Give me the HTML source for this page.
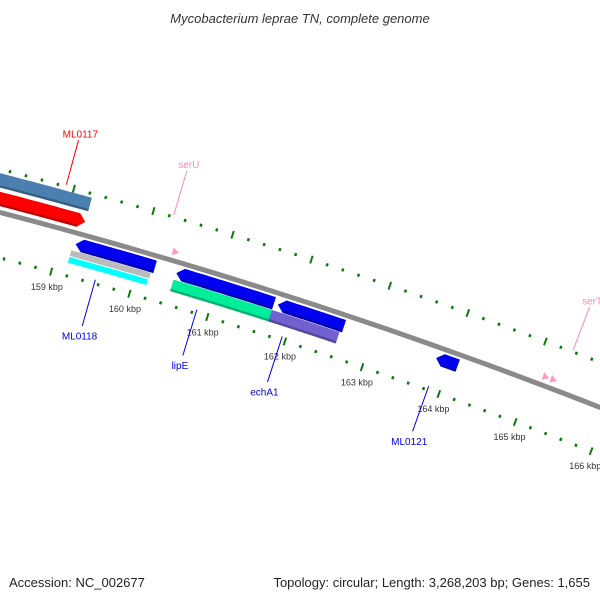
<!DOCTYPE html>
<html><head><meta charset="utf-8"><style>
html,body{margin:0;padding:0;background:#fff}
svg{display:block;font-family:"Liberation Sans","DejaVu Sans",sans-serif}
</style></head><body>
<svg id="map" width="600" height="600" viewBox="0 0 600 600">
<text x="300" y="23" text-anchor="middle" font-size="13" font-style="italic" fill="#333">Mycobacterium leprae TN, complete genome</text>
<text x="9" y="587" font-size="13" fill="#222">Accession: NC_002677</text>
<text x="590" y="587" text-anchor="end" font-size="13" fill="#222">Topology: circular; Length: 3,268,203 bp; Genes: 1,655</text>
<g id="layer"></g>
</svg>
<script>
// Data
const featNames = ["ML0117-a","ML0117","ML0118","ML0118-gray","ML0118-cyan","serU","lipE","lipE-green","echA1","echA1-purple","ML0121","serT-a","serT-b"];
const featStart = [156.0,156.0,159.20,159.17,159.17,160.36,160.48,160.47,161.78,161.73,163.82,165.12,165.22];
const featEnd   = [159.24,159.24,160.21,160.18,160.17,160.44,161.73,161.76,162.63,162.60,164.10,165.20,165.30];
const featDir   = [0,1,-1,0,0,1,-1,0,-1,0,-1,1,1];
const featTrack = [31,13,-11,-21,-28,9,-11,-24,-11,-24,-11,9,9];
const featThick = [14,14,13,6,6,8,13,12,13,12,13,8,8];
const featColor = ["#4a7fb0","#ff0000","#0000ee","#bbbbbb","#00ffff","#ff99cc","#0000ee","#00ee99","#0000ee","#7060d0","#0000ee","#ff99cc","#ff99cc"];
const labelText = ["ML0117","serU","serT","ML0118","lipE","echA1","ML0121"];
const labelKbp  = [158.9,160.25,165.35,159.55,160.85,161.95,163.85];
const labelSide = [1,1,1,-1,-1,-1,-1];
const labelColor= ["#ff0000","#ff88bb","#ff88bb","#0000dd","#0000dd","#0000dd","#0000dd"];
const tickKbp = [156,157,158,159,160,161,162,163,164,165,166,167];

const CX=-1351, CY=5389, R=5350;
const TH0=Math.atan2(232-CY,62-CX);
const PXK=82;
function th(k){return TH0+(k-159)*PXK/R;}
function pt(k,off){const t=th(k),r=R+off;return [CX+r*Math.cos(t),CY+r*Math.sin(t)];}
const NS="http://www.w3.org/2000/svg";
const layer=document.getElementById('layer');
function mk(tag,attrs){const e=document.createElementNS(NS,tag);for(const k in attrs)e.setAttribute(k,attrs[k]);layer.appendChild(e);return e;}
function arcPath(k1,k2,off){let d="";const n=40;for(let i=0;i<=n;i++){const p=pt(k1+(k2-k1)*i/n,off);d+=(i?"L":"M")+p[0].toFixed(1)+" "+p[1].toFixed(1);}return d;}

// backbone
let bb=mk('path',{d:arcPath(155,168,0),stroke:'#8a8a8a','stroke-width':5,fill:'none'});



// tick rings
[42,-44].forEach((off,ri)=>{
  for(let k=155;k<=168.001;k+=0.2){
    const kk=Math.round(k*10)/10;
    const major=Math.abs(kk-Math.round(kk))<1e-6;
    const len=major?8:3;
    const a=pt(kk,off-len/2),b=pt(kk,off+len/2);
    const l=mk('line',{x1:a[0],y1:a[1],x2:b[0],y2:b[1],stroke:'#117711','stroke-width':major?2:2.5});
    
    
  }
});
tickKbp.forEach(k=>{
  const p=pt(k,-60);
  const t=mk('text',{x:p[0],y:p[1]+3,'text-anchor':'middle','font-size':9,fill:'#333'});
  t.textContent=k+" kbp";
  
  
});

// features
featNames.forEach((nm,i)=>{
  const k1=featStart[i],k2=featEnd[i],o=featTrack[i],h=featThick[i]/2,dir=featDir[i];
  const ah=7/PXK;
  let pts=[];const n=30;
  let a=k1,b=k2;
  if(dir===1)b=Math.max(k1,k2-ah);
  if(dir===-1)a=Math.min(k2,k1+ah);
  for(let j=0;j<=n;j++)pts.push(pt(a+(b-a)*j/n,o+h));
  if(dir===1)pts.push(pt(k2,o));
  for(let j=n;j>=0;j--)pts.push(pt(a+(b-a)*j/n,o-h));
  if(dir===-1)pts.push(pt(k1,o));
  const f=mk('polygon',{points:pts.map(p=>p[0].toFixed(1)+","+p[1].toFixed(1)).join(" "),fill:featColor[i]});
  
  
  if(h>=5){
    const s=mk('path',{d:arcPath(a,b,o-h+1.2),stroke:'rgba(0,0,0,0.25)','stroke-width':2.4,fill:'none'});
    
    
  }
});

// labels
labelText.forEach((txt,i)=>{
  const s=labelSide[i];
  const p1=pt(labelKbp[i],s>0?44:-40),p2=pt(labelKbp[i],s>0?90:-88),p3=pt(labelKbp[i],s>0?97:-98);
  const l=mk('line',{x1:p1[0],y1:p1[1],x2:p2[0],y2:p2[1],stroke:labelColor[i],'stroke-width':1});
  
  
  const t=mk('text',{x:p3[0],y:p3[1]+4,'text-anchor':'middle','font-size':10,fill:labelColor[i]});
  t.textContent=txt;
  
  
});
</script>
</body></html>
